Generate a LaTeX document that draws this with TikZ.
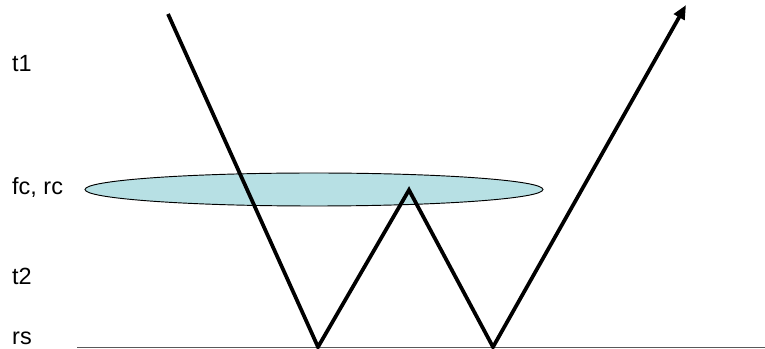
\documentclass[tikz,border=0pt]{standalone}
\usepackage{fontspec}
\setmainfont{Liberation Sans}
\usetikzlibrary{shapes.geometric}
\usetikzlibrary{arrows.meta}
\definecolor{filmblue}{RGB}{183,224,228}

\begin{document}
\begin{tikzpicture}[x=0.03cm, y=-0.03cm]
\tikzstyle{level} = [anchor=base west, inner sep=0pt, font=\fontsize{20}{23}\selectfont]
\tikzstyle{film} = [ellipse, draw=black, thick, fill=filmblue, inner sep=0pt, minimum width=13.74cm, minimum height=0.99cm]
\tikzstyle{ray} = [line width=3.2pt, line join=miter]

\useasboundingbox (0,0) rectangle (765,349);

% Levels
\node (t1) [level] at (12,72) {t1};
\node (fcrc) [level] at (12,195) {fc, rc};
\node (t2) [level] at (12,285) {t2};
\node (rs) [level] at (12,344) {rs};

% Film
\node (layer) [film] at (314,189.5) {};

% Surface
\coordinate (sleft) at (77,347.7);
\coordinate (sright) at (765,347.7);
\draw[gray!70!black, line width=1.2pt] (sleft) -- (sright);

% Ray path
\coordinate (start) at (168,14);
\coordinate (bounce1) at (318,347);
\coordinate (peak) at (409,190);
\coordinate (bounce2) at (493,347);
\coordinate (finish) at (686,5);

\draw[ray, -{Triangle[length=12pt, width=10pt]}] (start) -- (bounce1) -- (peak) -- (bounce2) -- (finish);
\end{tikzpicture}
\end{document}
